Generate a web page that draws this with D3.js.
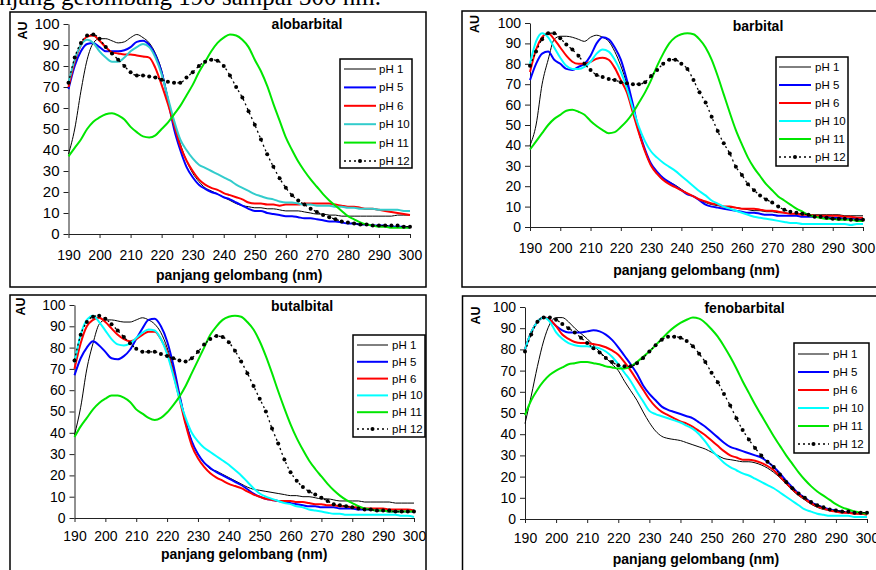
<!DOCTYPE html>
<html><head><meta charset="utf-8">
<script src="https://cdn.jsdelivr.net/npm/d3@7"></script>
<style>
body{margin:0;background:#fff;}
svg{display:block;font-family:"Liberation Sans",Arial,sans-serif;}
</style>
</head><body>
<svg id="chart" width="876" height="570"></svg>
<script>
// ---------------- DATA ----------------
const captionText = "njang gelombang 190 sampai 300 nm.";
const xAxisTitle = "panjang gelombang (nm)";
const yAxisTitle = "AU";
const drugNames = ["alobarbital", "barbital", "butalbital", "fenobarbital"];
const phLabels = ["pH 1", "pH 5", "pH 6", "pH 10", "pH 11", "pH 12"];
const xTickValues = [190, 200, 210, 220, 230, 240, 250, 260, 270, 280, 290, 300];
const yTickValues = [0, 10, 20, 30, 40, 50, 60, 70, 80, 90, 100];
const wavelength = [
  190,192,194,196,198,200,202,204,206,208,
  210,212,214,216,218,220,222,224,226,228,
  230,232,234,236,238,240,242,244,246,248,
  250,252,254,256,258,260,262,264,266,268,
  270,272,274,276,278,280,282,284,286,288,
  290,292,294,296,298,300];

// alobarbital
const alobarbital_pH1 = [
  38,50,68,83,91,93,93,92,91,91.5,
  93.5,95,93.5,91,86,78,65,53,43,35,
  29,25,22,20.5,19,17.5,16,14.5,13.5,13,
  12.5,12.5,12,12,11.5,11,11,11,10.5,10,
  9.5,9.5,9,9,8.5,8.5,8.5,8.5,8.5,8.5,
  8.5,8.5,8.5,9,9,9];
const alobarbital_pH5 = [
  69,80,87,90.5,91,89,87,87,87,87.5,
  89,91.5,92,90,85,77,64,50,40,32,
  27,23.5,21.5,20,19,17.5,16.5,15,13.5,12,
  11,11,10,9.5,9,8.5,8.5,8,7.5,7.5,
  7,6.5,6,6,5.5,5,5,4.5,4.5,4,
  4,4,3.5,3.5,3.5,3];
const alobarbital_pH6 = [
  70,82,90,94,94.5,92,89,86.5,86,85.5,
  85.5,85,84.5,84,79,71,62,52,42,35,
  30,26,23.5,22,21,19.5,18.5,17.5,16.5,15,
  14.5,14.5,14,14,13.5,14,14,14,14.5,14.5,
  14.5,14.5,14.5,14,13.5,13,13,12.5,12,12,
  11.5,11,10.5,10,9.5,9];
const alobarbital_pH10 = [
  72,83,90,92.5,91,87,84,82,82,84,
  87,89,90.5,89,84,76,65,54,45,40,
  36,33,31.5,30,28.5,27,25.5,23.5,22,20.5,
  19,18,17,16.5,15.5,15,15,14.5,14,14,
  13.5,13.5,13.5,13,13,12.5,12.5,12,12,12,
  11.5,11.5,11.5,11.5,11,11];
const alobarbital_pH11 = [
  37,41,45,50,53.5,55.5,57,57.5,56.5,54.5,
  51,48.5,46.5,46,47,50,53,57,61,66,
  71,77,82,87,91,93.5,95,94.5,92.5,89,
  83,77.5,70.5,62,54,46,40,34.5,30,26,
  22.5,19,16,13.5,11,8.5,7,5.5,4.5,4,
  3.5,3.5,3,3,3,3];
const alobarbital_pH12 = [
  72,84,91,94.5,95,93,89,86,83,80,
  77,75.5,75.5,75,74.5,73.5,72.5,72,72,74.5,
  77,80,82,83,82.5,80,75.5,70,65,58.5,
  52,45,38,32,26.5,22,18.5,16,14,12,
  10.5,9,8,7,6,5.5,5,4.5,4.5,4,
  4,4,4,4,3.5,3.5];

// barbital
const barbital_pH1 = [
  40,50,70,82,92,93.5,93.5,93,92,91,
  93,94,93,91,86,79,70,58,46,37,
  30,26,23,22,20.5,18.5,16.5,15,13.5,12,
  11,10.5,10,9.5,9.5,9,8.5,8,8,7.5,
  7.5,7,7,6.5,6.5,6.5,6,6,6,6,
  6,6,5.5,5.5,5.5,5.5];
const barbital_pH5 = [
  72,80,85,86,82,80,77.5,77,78.5,80,
  84,90,93,92,88,82,72,60,47,38,
  31,27,24,22,20,18,16,15,13,11,
  10,9.5,9,8.5,8,7.5,7,7,6.5,6,
  6,5.5,5.5,5.5,5.5,5,5,5,5,5,
  4.5,4.5,4,4,4,3.5];
const barbital_pH6 = [
  76,87,93,95,92,88,84,81,80,80,
  81,82.5,83,82,78,72,66,56,46,37,
  30,26,23,21,19.5,18,16.5,15,13.5,12.5,
  11.5,11,10,10,9.5,9,9,9,8.5,8,
  8,7.5,7,6.5,6.5,6,6,5.5,5.5,5.5,
  5.5,5.5,5,5,4.5,4.5];
const barbital_pH10 = [
  80,91,95,93,88,83,79,77.5,77.5,78.5,
  81,85,87,86,82,76,68,58,49,42,
  37,34,31.5,29.5,27.5,25,22.5,20,17.5,15.5,
  13,11.5,10,9,8,7,6,5,4.5,4,
  3.5,3,2.5,2,2,1.5,1.5,1.5,1.5,1.5,
  1.5,1.5,1.5,1,1.5,1.5];
const barbital_pH11 = [
  38,42,46,50,53,55,57,57.5,56.5,55,
  52,49.5,47.5,46,46.5,49,52,56,61,66,
  72,79,85,90,93,94.5,95,94.5,92,88,
  82,74,65,56,47.5,40.5,34,29,25,21,
  18,15,13,11,9,7.5,6,5,4.5,4,
  4,3.5,3.5,3.5,3,3];
const barbital_pH12 = [
  79,86,92,95,95,92.5,89.5,87,84,80,
  77,74.5,73.5,72.5,72,71,70.5,70,70,71,
  74,77,80,82,82,80,77.5,72,66,61,
  54,47,41,36,29.5,25.5,21,18,15.5,13.5,
  12,10,8.5,7.5,7,6.5,6,5,5,4.5,
  4,4,4,3.5,3.5,3.5];

// butalbital
const butalbital_pH1 = [
  39,52,70,82,91,93,93,92.5,92,92,
  93,94,93,91,87,80,70,58,46,36,
  30,26,23,22,20.5,19,17.5,16,14.5,13.5,
  13,12.5,12,11.5,11,10.5,10.5,10,10,9.5,
  9,9,8.5,8,8,8,8,7.5,7.5,7.5,
  7.5,7.5,7,7,7,7];
const butalbital_pH5 = [
  67,75,80,83,81,78,75,74.5,76,79,
  84,89,93,93.5,90,83,72,58,45,36,
  30,26,23.5,21.5,20,18.5,17,15.5,13.5,11.5,
  10,9,8.5,8,7.5,7,6.5,6,5.5,5.5,
  5,5,5,4.5,4.5,4.5,4,4,4,3.5,
  3.5,3,3,3,3,3];
const butalbital_pH6 = [
  70,82,90,93,94,92,89,86,84,83,
  84,86,87.5,87.5,84,78,68,56,44,34,
  28,24,21,19,17.5,16,15,14,12.5,11,
  10,9,8.5,8,8,8,7.5,7.5,7,6.5,
  6.5,6,6,5.5,5.5,5,5,4.5,4.5,4.5,
  4.5,4,4,4,4,3.5];
const butalbital_pH10 = [
  73,86,93,95,92,88,84,81.5,81,82,
  84.5,87,88.5,88,84,77,67,56,47,40,
  36,33,31,29,27,25,22.5,20,17,14,
  11.5,10,9,8,7,6.5,5.5,5,4,3.5,
  3,2.5,2,2,1.5,1.5,1.5,1.5,1.5,1.5,
  1.5,1.5,1.5,1,1,0.5];
const butalbital_pH11 = [
  38,43,47,51,54,56,57.5,57.5,56.5,54.5,
  51,49,47,46,47,49.5,53,57,62,68,
  74,80,86,90,93,94.5,95,94.5,92,88.5,
  83,76,68,59.5,51.5,44,37.5,32,27,23,
  19.5,16,13,10.5,8.5,7,5.5,4.5,4,3.5,
  3.5,3,3,3,3,3];
const butalbital_pH12 = [
  74,86,92,94.5,95,93.5,91,88,85,82,
  79.5,78,78,78,77,76,75,74,73.5,75,
  78,81.5,84,85.5,85,82.5,78.5,73.5,68,62,
  56,50,42,35,27.5,21.5,17.5,14.5,12.5,11,
  9.5,8,6.5,6,5.5,5,4.5,4,4,3.5,
  3.5,3.5,3,3,3,3];

// fenobarbital
const fenobarbital_pH1 = [
  45,58,72,84,92,95,95,93,90,87.5,
  85,82,79,76,73,70,65,60.5,56,50.5,
  45.5,41.5,39,38,37.5,37,36,35,34,33,
  31.5,30,28.5,28,27.5,27,27,26.5,25.5,24,
  22,19.5,16.5,13.5,11,9,7,5.5,4.5,4,
  3.5,3,3,2.5,2.5,2.5];
const fenobarbital_pH5 = [
  80,88,93,95,94,91,89,88,88,88,
  88.5,89,88.5,87,84.5,81,77,73,68.5,63,
  59,56,53,51.5,50.5,49.5,48.5,47.5,45.5,43.5,
  41,38.5,36,34,33,32,31,30,29,27,
  24.5,21.5,18,15,12,10,8,6.5,5.5,4.5,
  4,3.5,3,3,2.5,2.5];
const fenobarbital_pH6 = [
  80,88,93,95,94,91,87,85,83.5,83,
  83,82.5,82,81,79.5,77.5,74,70,65.5,61,
  56.5,53,50.5,49,47.5,46,45,43.5,41.5,39.5,
  37,34.5,32,30,29,28,28,27.5,26.5,25,
  23,20,17,14,11.5,9.5,7.5,6,5,4,
  3.5,3,3,2.5,2.5,2];
const fenobarbital_pH10 = [
  80,88,93,95,93,88,85,83,82,81.5,
  81.5,81,80.5,79,76.5,73,69,65,60,55.5,
  51,49.5,48.5,47.5,46.5,45.5,44,42.5,40,36.5,
  32.5,29.5,26.5,24.5,23,21.5,20.5,19,17.5,16,
  14.5,12.5,10.5,8.5,6.5,4.5,3.5,2.5,2,1.5,
  1.5,1.5,1.5,1,1,1];
const fenobarbital_pH11 = [
  49,56,61,65,68,70,71.5,73,73.5,74,
  74,73.5,73,72,71.5,71,71,72,74,76.5,
  79,82,85,88,90.5,92.5,94,95,94.5,92.5,
  89.5,86,81.5,76.5,71,65,59.5,54,49,44,
  39,34.5,30,26,22,18.5,15.5,13,11,9,
  7,5.5,4.5,3.5,3,2.5];
const fenobarbital_pH12 = [
  79,87,93,95,95,94,92,90,88,85.5,
  83,80.5,78.5,76,74,72.5,72,72,73.5,76,
  79,82,84.5,86,86,85.5,84,81.5,78,74,
  69,64.5,59,53.5,47.5,42,37.5,33.5,30,27,
  24.5,21,17.5,14.5,12,10,8,6.5,5.5,4.5,
  4,3.5,3.5,3,3,3];

const panelSeries = [
  [alobarbital_pH1, alobarbital_pH5, alobarbital_pH6, alobarbital_pH10, alobarbital_pH11, alobarbital_pH12],
  [barbital_pH1, barbital_pH5, barbital_pH6, barbital_pH10, barbital_pH11, barbital_pH12],
  [butalbital_pH1, butalbital_pH5, butalbital_pH6, butalbital_pH10, butalbital_pH11, butalbital_pH12],
  [fenobarbital_pH1, fenobarbital_pH5, fenobarbital_pH6, fenobarbital_pH10, fenobarbital_pH11, fenobarbital_pH12]
];

// ---------------- STYLE / LAYOUT ----------------
const seriesStyles = [
  {color: "#000000", width: 1},
  {color: "#0000FF", width: 2},
  {color: "#FF0000", width: 2},
  {color: "#00FFFF", width: 2},
  {color: "#00E600", width: 2},
  {color: "#000000", width: 1.3, dash: "2,3", marker: true}
];

const layouts = [
  {border:[10,12,416,275], x0:68.5, x1:410, y0:234, y1:24, yFont:15, xOff:16,
   title:[307,28.5], au:[27,30.5], xTitleY:280, tealPH10:true,
   legend:{x:340,y:59,w:72,h:109,row0:69,step:18.4,l0:344,l1:376,tx:379}},
  {border:[462,11,440,276], x0:530, x1:863, y0:227, y1:23, yFont:14, xOff:16,
   title:[758,30.5], au:[479,24], xTitleY:275,
   legend:{x:776,y:57,w:72,h:109,row0:67,step:18,l0:779,l1:811,tx:815}},
  {border:[10,295,416,300], x0:74.5, x1:414, y0:518, y1:305, yFont:14, xOff:13.5,
   title:[302,311], au:[25,306.5], xTitleY:559,
   legend:{x:353,y:335,w:72,h:102,row0:345,step:16.8,l0:357,l1:388,tx:392}},
  {border:[462.5,296,440,300], x0:525, x1:867, y0:519, y1:307, yFont:14, xOff:14,
   title:[744.5,312.5], au:[480,315.5], xTitleY:564,
   legend:{x:794,y:343,w:75,h:110,row0:354,step:18,l0:798,l1:829,tx:833}}
];

// ---------------- DRAW ----------------
const svg = d3.select("#chart");
svg.append("rect").attr("width",876).attr("height",570).attr("fill","#fff");

svg.append("text")
  .attr("x", 381).attr("y", 4.5)
  .attr("text-anchor", "end")
  .style("font-family", "'Liberation Serif','Times New Roman',serif")
  .style("font-size", "25px")
  .attr("fill", "#000")
  .text(captionText);

layouts.forEach((L, pi) => {
  const g = svg.append("g");
  g.append("rect")
    .attr("x", L.border[0]).attr("y", L.border[1])
    .attr("width", L.border[2]).attr("height", L.border[3])
    .attr("fill", "#fff").attr("stroke", "#000").attr("stroke-width", 1.5);

  const x = d3.scaleLinear().domain([190, 300]).range([L.x0, L.x1]);
  const y = d3.scaleLinear().domain([0, 100]).range([L.y0, L.y1]);

  const ya = g.append("g").attr("transform", `translate(${L.x0},0)`)
    .call(d3.axisLeft(y).tickValues(yTickValues).tickSize(5).tickSizeOuter(0).tickPadding(4));
  ya.attr("font-family", "'Liberation Sans',Arial,sans-serif").attr("font-size", L.yFont);
  ya.selectAll("text").attr("fill", "#000");
  ya.selectAll("line,path").attr("stroke", "#222");

  const xa = g.append("g").attr("transform", `translate(0,${L.y0})`)
    .call(d3.axisBottom(x).tickValues(xTickValues).tickSize(4).tickSizeOuter(0).tickPadding(L.xOff - 4));
  xa.attr("font-family", "'Liberation Sans',Arial,sans-serif").attr("font-size", 14);
  xa.selectAll("text").attr("fill", "#000");
  xa.selectAll("line,path").attr("stroke", "#222");

  // titles
  g.append("text").attr("x", L.title[0]).attr("y", L.title[1])
    .attr("text-anchor", "middle").attr("font-weight", "bold").attr("font-size", 14)
    .text(drugNames[pi]);
  g.append("text").attr("transform", `translate(${L.au[0]},${L.au[1]}) rotate(-90)`)
    .attr("text-anchor", "middle").attr("font-weight", "bold").attr("font-size", 12.5)
    .text(yAxisTitle);
  g.append("text").attr("x", (L.x0 + L.x1) / 2).attr("y", L.xTitleY)
    .attr("text-anchor", "middle").attr("font-weight", "bold").attr("font-size", 14)
    .text(xAxisTitle);

  const styleFor = (si) => {
    const s = Object.assign({}, seriesStyles[si]);
    if (si === 3 && L.tealPH10) s.color = "#33CCCC";
    return s;
  };

  const line = d3.line()
    .x((d, j) => x(wavelength[j]))
    .y(d => y(d))
    .curve(d3.curveMonotoneX);

  panelSeries[pi].forEach((vals, si) => {
    const s = styleFor(si);
    const p = g.append("path").datum(vals)
      .attr("d", line)
      .attr("fill", "none")
      .attr("stroke", s.color)
      .attr("stroke-width", s.width)
      .attr("stroke-linejoin", "round");
    if (s.dash) p.attr("stroke-dasharray", s.dash);
    if (s.marker) {
      g.append("g").selectAll("circle").data(vals).join("circle")
        .attr("cx", (d, j) => x(wavelength[j]))
        .attr("cy", d => y(d))
        .attr("r", 2)
        .attr("fill", "#000");
    }
  });

  // legend
  const lg = L.legend;
  g.append("rect").attr("x", lg.x).attr("y", lg.y).attr("width", lg.w).attr("height", lg.h)
    .attr("fill", "#fff").attr("stroke", "#000").attr("stroke-width", 1.5);
  phLabels.forEach((lab, si) => {
    const s = styleFor(si);
    const ry = lg.row0 + si * lg.step;
    const ln = g.append("line").attr("x1", lg.l0).attr("x2", lg.l1).attr("y1", ry).attr("y2", ry)
      .attr("stroke", s.color).attr("stroke-width", s.width);
    if (s.dash) ln.attr("stroke-dasharray", s.dash);
    if (s.marker) {
      g.append("circle").attr("cx", (lg.l0 + lg.l1) / 2).attr("cy", ry).attr("r", 2).attr("fill", "#000");
    }
    g.append("text").attr("x", lg.tx).attr("y", ry).attr("dy", "0.35em")
      .attr("font-size", 11.5).attr("fill", "#000").text(lab);
  });
});
</script>
</body></html>
